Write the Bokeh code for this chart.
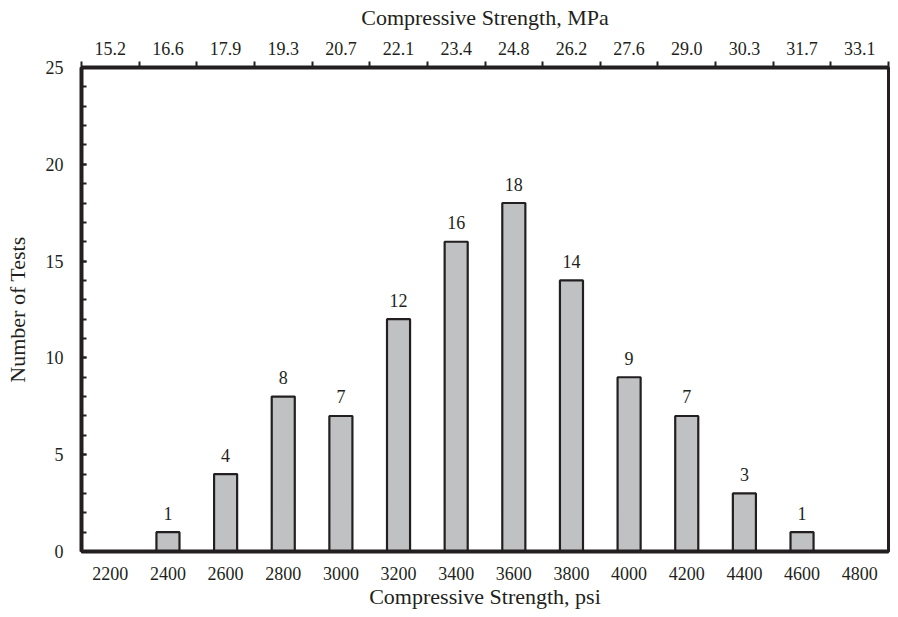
from bokeh.plotting import figure
from bokeh.models import ColumnDataSource, FixedTicker, LinearAxis, Range1d
from bokeh.embed import file_html
from bokeh.resources import INLINE
from bokeh.core.properties import value

psi_labels = ["2200", "2400", "2600", "2800", "3000", "3200", "3400",
              "3600", "3800", "4000", "4200", "4400", "4600", "4800"]
mpa_labels = ["15.2", "16.6", "17.9", "19.3", "20.7", "22.1", "23.4",
              "24.8", "26.2", "27.6", "29.0", "30.3", "31.7", "33.1"]
counts = [0, 1, 4, 8, 7, 12, 16, 18, 14, 9, 7, 3, 1, 0]

FONT = "Liberation Serif"
INK = "#231f20"
TICK_FS = "18px"
TITLE_FS = "22px"

n = len(psi_labels)
centers = [i + 0.5 for i in range(n)]
bounds = list(range(n + 1))

bar_x = [c for c, v in zip(centers, counts) if v > 0]
bar_v = [v for v in counts if v > 0]
src = ColumnDataSource(dict(x=bar_x, top=bar_v, label=[str(v) for v in bar_v]))

p = figure(width=896, height=615, output_backend="svg", toolbar_location=None,
           x_range=Range1d(0, n), y_range=Range1d(0, 25),
           x_axis_location=None, y_axis_location=None)
p.min_border_left = 81
p.min_border_right = 8
p.min_border_top = 67
p.min_border_bottom = 64
p.xgrid.visible = False
p.ygrid.visible = False
p.outline_line_color = INK
p.outline_line_width = 3
p.background_fill_color = "white"
p.border_fill_color = "white"

p.vbar(x="x", top="top", bottom=0, width=0.4, source=src,
       fill_color="#c0c1c3", line_color=INK, line_width=2.2)
p.text(x="x", y="top", text="label", source=src, y_offset=-19,
       text_align="center", text_baseline="alphabetic",
       text_font=value(FONT), text_font_size=TICK_FS, text_color=INK)


def style_axis(ax):
    ax.axis_line_color = INK
    ax.axis_line_width = 4
    ax.major_label_text_font = FONT
    ax.major_label_text_font_size = TICK_FS
    ax.major_label_text_color = INK
    ax.axis_label_text_font = FONT
    ax.axis_label_text_font_size = TITLE_FS
    ax.axis_label_text_font_style = "normal"
    ax.axis_label_text_color = INK


# bottom axis
xb = LinearAxis(ticker=FixedTicker(ticks=centers, minor_ticks=[]),
                major_label_overrides={c: l for c, l in zip(centers, psi_labels)},
                axis_label="Compressive Strength, psi")
style_axis(xb)
xb.major_tick_line_color = None
xb.minor_tick_line_color = None
xb.major_tick_out = 0
xb.major_tick_in = 0
xb.minor_tick_out = 0
xb.minor_tick_in = 0
xb.major_label_standoff = 15
xb.axis_label_standoff = 1
p.add_layout(xb, "below")

# top axis
xt = LinearAxis(ticker=FixedTicker(ticks=centers, minor_ticks=bounds),
                major_label_overrides={c: l for c, l in zip(centers, mpa_labels)},
                axis_label="Compressive Strength, MPa")
style_axis(xt)
xt.major_tick_line_color = None
xt.major_tick_out = 0
xt.major_tick_in = 0
xt.minor_tick_line_color = INK
xt.minor_tick_line_width = 2
xt.minor_tick_out = 6
xt.minor_tick_in = 0
xt.major_label_standoff = 7
xt.axis_label_standoff = 9
p.add_layout(xt, "above")

# left axis
yl = LinearAxis(ticker=FixedTicker(ticks=[0, 5, 10, 15, 20, 25],
                                   minor_ticks=list(range(26))),
                axis_label="Number of Tests")
style_axis(yl)
yl.major_tick_line_color = INK
yl.major_tick_line_width = 2
yl.major_tick_in = 5
yl.major_tick_out = 0
yl.minor_tick_line_color = INK
yl.minor_tick_line_width = 2
yl.minor_tick_in = 5
yl.minor_tick_out = 0
yl.major_label_standoff = 18
yl.axis_label_standoff = 13
p.add_layout(yl, "left")

open("out.html", "w").write(file_html(p, INLINE))
